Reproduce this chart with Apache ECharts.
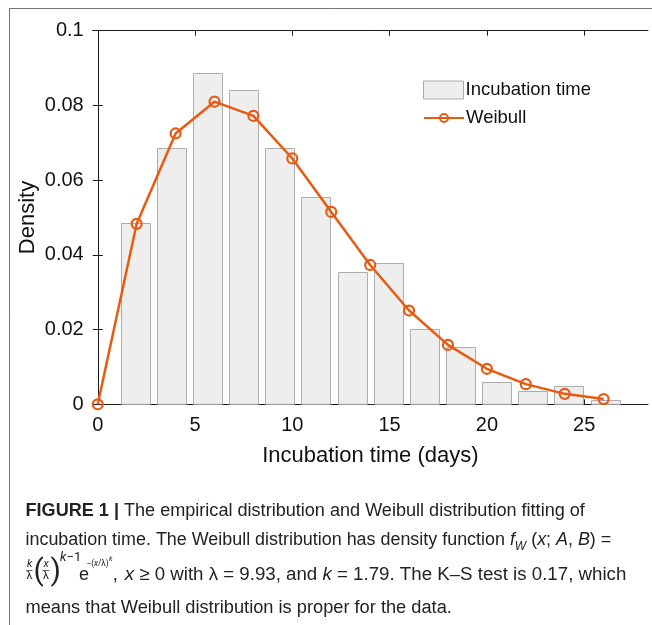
<!DOCTYPE html>
<html><head><meta charset="utf-8">
<script src="https://cdn.jsdelivr.net/npm/echarts@6/dist/echarts.min.js"></script>
<style>html,body{margin:0;padding:0;background:#fff}#c{width:652px;height:625px}</style>
</head><body><div id="c"></div>
<script>
// ---- data ----
const binCenters = [1.93, 3.79, 5.64, 7.5, 9.36, 11.21, 13.07, 14.93, 16.79, 18.64, 20.5, 22.36, 24.21, 26.07];
const binWidth = 1.857;
const densities = [0.0485, 0.0685, 0.0887, 0.0840, 0.0685, 0.0556, 0.0354, 0.0378, 0.0201, 0.0154, 0.0059, 0.0035, 0.0048, 0.0012];
const weibullX = [0, 2, 4, 6, 8, 10, 12, 14, 16, 18, 20, 22, 24, 26];
const weibullY = [0, 0.0483, 0.0725, 0.0810, 0.0772, 0.0658, 0.0515, 0.0373, 0.0251, 0.0159, 0.0095, 0.0054, 0.0028, 0.0014];
const xTicks = [0, 5, 10, 15, 20, 25];
const yTicks = [0, 0.02, 0.04, 0.06, 0.08, 0.1];
const seriesNames = ['Incubation time', 'Weibull'];

const ORANGE = '#E85A10';
const AX = '#1a1a1a';
const F = 'Liberation Sans, Arial, sans-serif';

// ---- caption layout helpers ----
const cv = document.createElement('canvas').getContext('2d');
const CF = 'Liberation Sans';
const SF = 'Roboto';
const TXT = '#222';
function fontOf(s, size){ return (s.i?'italic ':'') + (s.b?'bold ':'') + (s.size||size) + 'px ' + (s.ff||CF); }
function widthOf(segs, size){ let w = 0; segs.forEach(s => { cv.font = fontOf(s, size); w += cv.measureText(s.t).width; }); return w; }
function fit(segs, target, ref){
  let s = 100 * target / widthOf(segs, 100);
  for (let k = 0; k < 3; k++) s = s * target / widthOf(segs, s);
  return ref ? Math.min(ref * 1.04, Math.max(ref * 0.96, s)) : s;
}
function line(segs, x0, y, size){
  let x = x0; const out = [];
  segs.forEach(s => {
    const font = fontOf(s, size);
    out.push({type:'text', x: x, y: y + (s.dy||0), z: 10,
      style:{text: s.t, font: font, fill: TXT, verticalAlign: 'bottom'}});
    cv.font = font;
    x += cv.measureText(s.t).width;
  });
  return {els: out, end: x};
}
function txt(t, x, y, font, va){
  return {type:'text', x:x, y:y, z:10, style:{text:t, font:font, fill:TXT, verticalAlign: va||'bottom'}};
}
function bar(x1, x2, y){
  return {type:'line', z:10, shape:{x1:x1, y1:y, x2:x2, y2:y}, style:{stroke:'#444', lineWidth:0.8}};
}
const X0 = 25.5;
const seg1 = [{t:'FIGURE 1 | ', b:true}, {t:'The empirical distribution and Weibull distribution fitting of'}];
const seg2 = [{t:'incubation time. The Weibull distribution has density function '}, {t:'f', i:true},
  {t:'W', i:true, size:12, dy:4}, {t:' ('}, {t:'x', i:true}, {t:'; '}, {t:'A', i:true}, {t:', '}, {t:'B', i:true}, {t:') ='}];
const seg3 = [{t:'x', i:true}, {t:' ≥ 0 with λ = 9.93, and '}, {t:'k', i:true}, {t:' = 1.79. The K–S test is 0.17, which'}];
const seg4 = [{t:'means that Weibull distribution is proper for the data.'}];
const CS = fit(seg1, 585 - X0);
const graphics = [];
// outer frame
graphics.push({type:'line', shape:{x1:9.5, y1:8.5, x2:652, y2:8.5}, style:{stroke:'#777', lineWidth:1}});
graphics.push({type:'line', shape:{x1:9.5, y1:8.5, x2:9.5, y2:625}, style:{stroke:'#777', lineWidth:1}});

graphics.push(...line(seg1, X0, 520, CS).els);
graphics.push(...line(seg2, X0, 549, fit(seg2, 611 - X0, CS)).els);
// line 3 formula
const fr = 11;
graphics.push(txt('k', 27, 570, 'italic '+fr+'px '+SF));
graphics.push(bar(26, 32.5, 570.5));
graphics.push(txt('λ', 26.5, 571, fr+'px '+SF, 'top'));
graphics.push(txt('(', 33.5, 572.5, '30px '+SF, 'middle'));
graphics.push(txt('x', 43.5, 570, 'italic '+fr+'px '+SF));
graphics.push(bar(42.5, 49.5, 570.5));
graphics.push(txt('λ', 43, 571, fr+'px '+SF, 'top'));
graphics.push(txt(')', 50.5, 572.5, '30px '+SF, 'middle'));
graphics.push(txt('k', 60, 564, 'italic 13px '+SF));
graphics.push(txt('−1', 66.5, 564, '13px '+SF));
graphics.push(...line([{t:'e'}], 79, 584, CS).els);
const sup = line([{t:'−(', ff:SF}, {t:'x', i:true, ff:SF}, {t:'/λ)', ff:SF}], 86.5, 568, 8.2);
graphics.push(...sup.els);
graphics.push(txt('k', sup.end + 0.3, 562.5, 'italic 7px '+SF));
const commaX = Math.max(111, sup.end + 4);
graphics.push(...line([{t:','}], commaX, 584, CS).els);
const x3 = Math.max(123.5, commaX + 12);
graphics.push(...line(seg3, x3, 584, fit(seg3, 626 - x3, CS)).els);
graphics.push(...line(seg4, X0, 617, fit(seg4, 452 - X0, CS)).els);

// ---- chart ----
const chart = echarts.init(document.getElementById('c'), null, {renderer:'canvas'});
const xCommon = {type:'value', min:-0.26, max:28.28,
  splitLine:{show:false}, axisLine:{show:true, onZero:false, lineStyle:{color:AX, width:1}}};
const yCommon = {type:'value', min:0, max:0.1, interval:0.02,
  splitLine:{show:false}, axisLine:{show:true, lineStyle:{color:AX, width:1}}};
const legendText = {fontFamily:F, fontSize:18.5, color:'#111', padding:[0,0,0,-3]};
chart.setOption({
  backgroundColor:'#fff',
  animation:false,
  grid:{left:92.7, right:4, top:30.7, bottom:220.7, containLabel:false},
  legend:[
    {orient:'vertical', left:423, top:80.5, padding:0, itemWidth:40, itemHeight:18, selectedMode:false,
     textStyle:legendText,
     data:[{name:seriesNames[0], icon:'rect', itemStyle:{color:'#EEEEEE', borderColor:'#ABABAB', borderWidth:1}}]},
    {orient:'vertical', left:423, top:108.5, padding:0, itemWidth:40, itemHeight:10, selectedMode:false,
     textStyle:legendText,
     data:[{name:seriesNames[1]}]}
  ],
  xAxis:[
    Object.assign({}, xCommon, {position:'bottom',
      name:'Incubation time (days)', nameLocation:'middle', nameGap:41, nameMoveOverlap:false,
      nameTextStyle:{fontFamily:F, fontSize:22, color:'#111'},
      axisTick:{show:true, inside:true, length:5, lineStyle:{color:AX}, customValues:xTicks},
      axisLabel:{show:true, margin:11, fontFamily:F, fontSize:20, color:'#111', customValues:xTicks}}),
    Object.assign({}, xCommon, {position:'top',
      axisTick:{show:true, inside:true, length:5, lineStyle:{color:AX}, customValues:xTicks},
      axisLabel:{show:false}})
  ],
  yAxis:[
    Object.assign({}, yCommon, {position:'left',
      name:'Density', nameLocation:'middle', nameGap:54, nameRotate:90, nameMoveOverlap:false,
      nameTextStyle:{fontFamily:F, fontSize:22, color:'#111'},
      axisTick:{show:true, inside:true, length:5, lineStyle:{color:AX}},
      axisLabel:{show:true, margin:9, fontFamily:F, fontSize:20, color:'#111',
        formatter: v => (v === 0 ? '0' : String(+v.toFixed(2)))}}),
    Object.assign({}, yCommon, {position:'right',
      axisTick:{show:true, inside:true, length:5, lineStyle:{color:AX}},
      axisLabel:{show:false}})
  ],
  series:[
    {
      name:seriesNames[0], type:'custom', xAxisIndex:0, yAxisIndex:0, z:2,
      data: binCenters.map((c, i) => [c, densities[i]]),
      renderItem: function(params, api){
        const top = api.coord([api.value(0), api.value(1)]);
        const base = api.coord([api.value(0), 0]);
        const w = api.size([binWidth * 0.8, 0])[0];
        return {type:'rect',
          shape:{x: Math.round(top[0] - w/2) + 0.5, y: Math.round(top[1]) + 0.5, width: Math.round(w), height: base[1] - Math.round(top[1]) - 0.5},
          style:{fill:'#EEEEEE', stroke:'#ADADAD', lineWidth:1}};
      }
    },
    {
      name:seriesNames[1], type:'line', xAxisIndex:0, yAxisIndex:0, z:5,
      data: weibullX.map((x, i) => [x, weibullY[i]]),
      symbol:'circle', symbolSize:10, showAllSymbol:true,
      lineStyle:{color:ORANGE, width:2.5},
      itemStyle:{color:'rgba(255,255,255,0)', borderColor:ORANGE, borderWidth:2.2},
      emphasis:{disabled:true}
    }
  ],
  graphic: graphics
});
</script></body></html>
